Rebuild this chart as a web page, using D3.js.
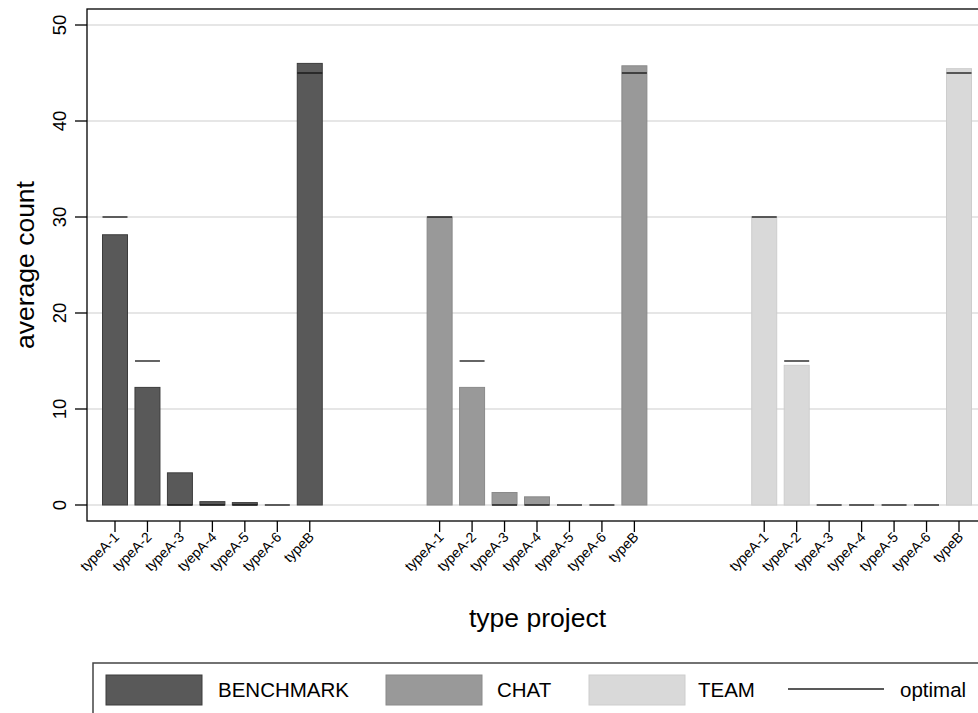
<!DOCTYPE html>
<html>
<head>
<meta charset="utf-8">
<script src="https://cdn.jsdelivr.net/npm/d3@7"></script>
<style>
  html, body { margin: 0; padding: 0; background: #fff; }
  svg { display: block; font-family: "Liberation Sans", Arial, Helvetica, sans-serif; }
</style>
</head>
<body>
<svg id="chart" width="978" height="713"></svg>
<script>
// ---- data ----
const categories = ["typeA-1", "typeA-2", "typeA-3", "typeA-4", "typeA-5", "typeA-6", "typeB"];
const groups = ["BENCHMARK", "CHAT", "TEAM"];
const tickLabelsBenchmark = ["typeA-1", "typeA-2", "typeA-3", "tyepA-4", "typeA-5", "typeA-6", "typeB"];
const tickLabelsChat = ["typeA-1", "typeA-2", "typeA-3", "typeA-4", "typeA-5", "typeA-6", "typeB"];
const tickLabelsTeam = ["typeA-1", "typeA-2", "typeA-3", "typeA-4", "typeA-5", "typeA-6", "typeB"];
const benchmark = [28.15, 12.25, 3.35, 0.35, 0.25, 0, 46.0];
const chat = [30.0, 12.25, 1.3, 0.85, 0, 0, 45.75];
const team = [30.0, 14.55, 0, 0, 0, 0, 45.45];
const optimal = [30, 15, 0, 0, 0, 0, 45];
const yTicks = [0, 10, 20, 30, 40, 50];

const seriesValues = [benchmark, chat, team];
const tickLabels = [tickLabelsBenchmark, tickLabelsChat, tickLabelsTeam];
const fills = ["#595959", "#999999", "#d9d9d9"];
const strokes = ["#3c3c3c", "#8a8a8a", "#cdcdcd"];

// ---- layout ----
const svg = d3.select("#chart");
const frame = { left: 87, top: 9, right: 990, bottom: 521 };
const slotsPerGroup = 10; // 7 bars + 3 gap slots

const y = d3.scaleLinear().domain([-1.667, 51.667]).range([frame.bottom, frame.top]);
const x = d3.scaleLinear().domain([0, 26]).range([115, 959]);
const slotW = x(1) - x(0);
const barW = slotW * 0.77;

const rows = [];
groups.forEach((g, gi) => {
  categories.forEach((c, ci) => {
    rows.push({ group: g, gi, ci, slot: gi * slotsPerGroup + ci,
                value: seriesValues[gi][ci], opt: optimal[ci], label: tickLabels[gi][ci] });
  });
});

// gridlines
svg.append("g").selectAll("line").data(yTicks).join("line")
  .attr("x1", frame.left).attr("x2", 978)
  .attr("y1", d => y(d)).attr("y2", d => y(d))
  .attr("stroke", "#e6e6e6").attr("stroke-width", 2);

// bars
svg.append("g").selectAll("rect").data(rows.filter(d => d.value > 0)).join("rect")
  .attr("x", d => x(d.slot) - barW / 2)
  .attr("width", barW)
  .attr("y", d => y(d.value))
  .attr("height", d => y(0) - y(d.value))
  .attr("fill", d => fills[d.gi])
  .attr("stroke", d => strokes[d.gi])
  .attr("stroke-width", 1);

// optimal lines
svg.append("g").selectAll("line").data(rows).join("line")
  .attr("x1", d => x(d.slot) - barW / 2)
  .attr("x2", d => x(d.slot) + barW / 2)
  .attr("y1", d => y(d.opt)).attr("y2", d => y(d.opt))
  .attr("stroke", "#111").attr("stroke-width", 1.3);

// frame
svg.append("rect")
  .attr("x", frame.left).attr("y", frame.top)
  .attr("width", frame.right - frame.left).attr("height", frame.bottom - frame.top)
  .attr("fill", "none").attr("stroke", "#000").attr("stroke-width", 1.3);

// y axis ticks
const yAxis = svg.append("g");
yAxis.selectAll("line").data(yTicks).join("line")
  .attr("x1", frame.left - 12).attr("x2", frame.left)
  .attr("y1", d => y(d)).attr("y2", d => y(d))
  .attr("stroke", "#000").attr("stroke-width", 1.3);
yAxis.selectAll("text").data(yTicks).join("text")
  .attr("transform", d => `translate(66,${y(d)}) rotate(-90)`)
  .attr("text-anchor", "middle")
  .attr("font-size", 18.5)
  .attr("fill", "#000")
  .text(d => d);

// x axis ticks
const xAxis = svg.append("g");
xAxis.selectAll("line").data(rows).join("line")
  .attr("x1", d => x(d.slot)).attr("x2", d => x(d.slot))
  .attr("y1", frame.bottom).attr("y2", frame.bottom + 11)
  .attr("stroke", "#000").attr("stroke-width", 1.3);
xAxis.selectAll("text").data(rows).join("text")
  .attr("transform", d => `translate(${x(d.slot) + 5},${frame.bottom + 17}) rotate(-45)`)
  .attr("text-anchor", "end")
  .attr("font-size", 14)
  .attr("fill", "#000")
  .text(d => d.label);

// axis titles
svg.append("text")
  .attr("transform", `translate(34,265) rotate(-90)`)
  .attr("text-anchor", "middle")
  .attr("font-size", 26.5)
  .text("average count");
svg.append("text")
  .attr("x", 537.5).attr("y", 627)
  .attr("text-anchor", "middle")
  .attr("font-size", 26.5)
  .text("type project");

// legend
const legend = svg.append("g");
legend.append("rect")
  .attr("x", 93).attr("y", 663).attr("width", 900).attr("height", 80)
  .attr("fill", "none").attr("stroke", "#444").attr("stroke-width", 1.5);
const swX = [106, 386, 589];
const txX = [218, 497, 698];
legend.selectAll("rect.sw").data(groups).join("rect")
  .attr("class", "sw")
  .attr("x", (d, i) => swX[i]).attr("y", 675)
  .attr("width", 96).attr("height", 30)
  .attr("fill", (d, i) => fills[i]).attr("stroke", (d, i) => strokes[i]);
legend.selectAll("text.lt").data(groups).join("text")
  .attr("class", "lt")
  .attr("x", (d, i) => txX[i]).attr("y", 697)
  .attr("font-size", 20.5)
  .text(d => d);
legend.append("line")
  .attr("x1", 788).attr("x2", 884).attr("y1", 689).attr("y2", 689)
  .attr("stroke", "#222").attr("stroke-width", 1.3);
legend.append("text")
  .attr("x", 900).attr("y", 697)
  .attr("font-size", 20.5)
  .text("optimal");
</script>
</body>
</html>
